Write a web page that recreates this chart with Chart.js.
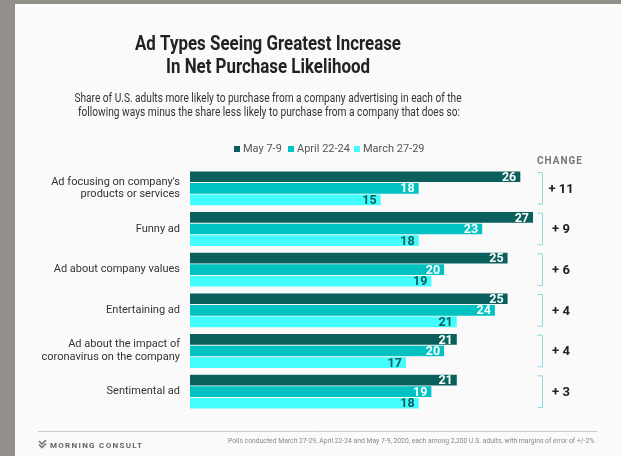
<!DOCTYPE html>
<html>
<head>
<meta charset="utf-8">
<script src="https://cdn.jsdelivr.net/npm/chart.js@4.4.1/dist/chart.umd.min.js"></script>
<style>
  body { margin: 0; background: #928e8a; }
  #wrap { width: 621px; height: 456px; position: relative; }
</style>
</head>
<body>
<div id="wrap"><canvas id="myChart"></canvas></div>
<script>
// data
var categories = [
    ["Ad focusing on company's", 'products or services'],
    'Funny ad',
    'Ad about company values',
    'Entertaining ad',
    ['Ad about the impact of', 'coronavirus on the company'],
    'Sentimental ad'
];
var seriesNames = ['May 7-9', 'April 22-24', 'March 27-29'];
var may = [26, 27, 25, 25, 21, 21];
var april = [18, 23, 20, 24, 20, 19];
var march = [15, 18, 19, 21, 17, 18];

var colors = ['#0b5f5c', '#00c2c2', '#43fcfc'];
var valueColors = ['#ffffff', '#ffffff', '#0b5f5c'];
var FONT = 'Roboto, "Noto Sans", sans-serif';

// squeeze text to a given width (the original uses a condensed face)
function squeeze(ctx, text, x, y, w) {
    ctx.fillText(text, x, y, w);
}

var decor = {
    id: 'decor',
    beforeDraw: function(chart) {
        var c = chart.ctx;
        c.save();
        c.fillStyle = '#928e8a';
        c.fillRect(0, 0, chart.width, chart.height);
        c.fillStyle = '#fafafa';
        c.fillRect(15, 4, chart.width - 15, chart.height - 4);
        c.restore();
    },
    afterDatasetsDraw: function(chart) {
        var c = chart.ctx;
        c.save();
        c.font = 'bold 12.5px ' + FONT;
        c.textAlign = 'right';
        c.textBaseline = 'middle';
        chart.data.datasets.forEach(function(ds, i) {
            var meta = chart.getDatasetMeta(i);
            c.fillStyle = valueColors[i];
            meta.data.forEach(function(bar, j) {
                c.fillText(ds.data[j], bar.x - 4, bar.y + 1);
            });
        });
        c.restore();
    },
    afterDraw: function(chart) {
        var c = chart.ctx;
        var y = chart.scales.y;
        c.save();

        // title + subtitle
        c.fillStyle = '#222';
        c.textAlign = 'center';
        c.textBaseline = 'alphabetic';
        c.font = 'bold 19.5px ' + FONT;
        squeeze(c, 'Ad Types Seeing Greatest Increase', 268, 50, 266);
        squeeze(c, 'In Net Purchase Likelihood', 268, 73, 204);
        c.fillStyle = '#333';
        c.font = '12.5px ' + FONT;
        squeeze(c, 'Share of U.S. adults more likely to purchase from a company advertising in each of the', 268, 102, 387);
        squeeze(c, 'following ways minus the share less likely to purchase from a company that does so:', 269, 116, 382);

        // legend
        c.font = '11px ' + FONT;
        c.textAlign = 'left';
        c.textBaseline = 'middle';
        var lx = [234, 288, 354];
        seriesNames.forEach(function(name, i) {
            c.fillStyle = colors[i];
            c.fillRect(lx[i], 146, 6, 6);
            c.fillStyle = '#555';
            c.fillText(name, lx[i] + 9, 149.5);
        });

        // change column
        c.fillStyle = '#777';
        c.font = 'bold 10px ' + FONT;
        c.letterSpacing = '1px';
        c.textAlign = 'center';
        c.textBaseline = 'alphabetic';
        c.fillText('CHANGE', 560, 164);
        c.letterSpacing = '0px';

        var half = (y.height / categories.length) * 0.853 / 2;
        categories.forEach(function(cat, i) {
            var cy = y.getPixelForValue(i);
            c.strokeStyle = '#8fdada';
            c.lineWidth = 1;
            c.beginPath();
            c.moveTo(537.5, cy - half + 1.5);
            c.lineTo(542.5, cy - half + 1.5);
            c.lineTo(542.5, cy + half - 1.5);
            c.lineTo(537.5, cy + half - 1.5);
            c.stroke();
            c.fillStyle = '#222';
            c.font = 'bold 13px ' + FONT;
            c.textBaseline = 'middle';
            c.fillText('+ ' + (may[i] - march[i]), 561, cy + 1);
        });

        // footer
        c.strokeStyle = '#c9c9c9';
        c.beginPath();
        c.moveTo(38, 431.5);
        c.lineTo(597, 431.5);
        c.stroke();

        c.strokeStyle = '#777';
        c.lineWidth = 1.6;
        c.beginPath();
        c.moveTo(39, 441);
        c.lineTo(42, 444);
        c.lineTo(46, 440);
        c.moveTo(39, 444.5);
        c.lineTo(42, 447.5);
        c.lineTo(46, 443.5);
        c.stroke();

        c.fillStyle = '#666';
        c.font = 'bold 8px ' + FONT;
        c.letterSpacing = '1.3px';
        c.textAlign = 'left';
        c.textBaseline = 'alphabetic';
        c.fillText('MORNING CONSULT', 50, 448);
        c.letterSpacing = '0px';

        c.fillStyle = '#888';
        c.font = '7px ' + FONT;
        c.textAlign = 'right';
        squeeze(c, 'Polls conducted March 27-29, April 22-24 and May 7-9, 2020, each among 2,200 U.S. adults, with margins of error of +/-2%.', 596, 443, 368);

        c.restore();
    }
};

var ctx = document.getElementById('myChart').getContext('2d');
var myChart = new Chart(ctx, {
    type: 'bar',
    data: {
        labels: categories,
        datasets: [
            { label: seriesNames[0], data: may, backgroundColor: colors[0] },
            { label: seriesNames[1], data: april, backgroundColor: colors[1] },
            { label: seriesNames[2], data: march, backgroundColor: colors[2] }
        ]
    },
    options: {
        indexAxis: 'y',
        responsive: true,
        maintainAspectRatio: false,
        animation: false,
        categoryPercentage: 0.853,
        barPercentage: 0.92,
        layout: {
            padding: { left: 0, right: 88, top: 168, bottom: 44 }
        },
        plugins: {
            legend: { display: false },
            tooltip: { enabled: false }
        },
        scales: {
            x: {
                display: false,
                min: 0,
                max: 27
            },
            y: {
                grid: { display: false, drawTicks: false },
                border: { display: false },
                ticks: {
                    color: '#333',
                    padding: 10,
                    font: { family: FONT, size: 11, lineHeight: 1.15 }
                },
                afterFit: function(scale) {
                    scale.width = 190;
                }
            }
        }
    },
    plugins: [decor]
});
</script>
</body>
</html>
